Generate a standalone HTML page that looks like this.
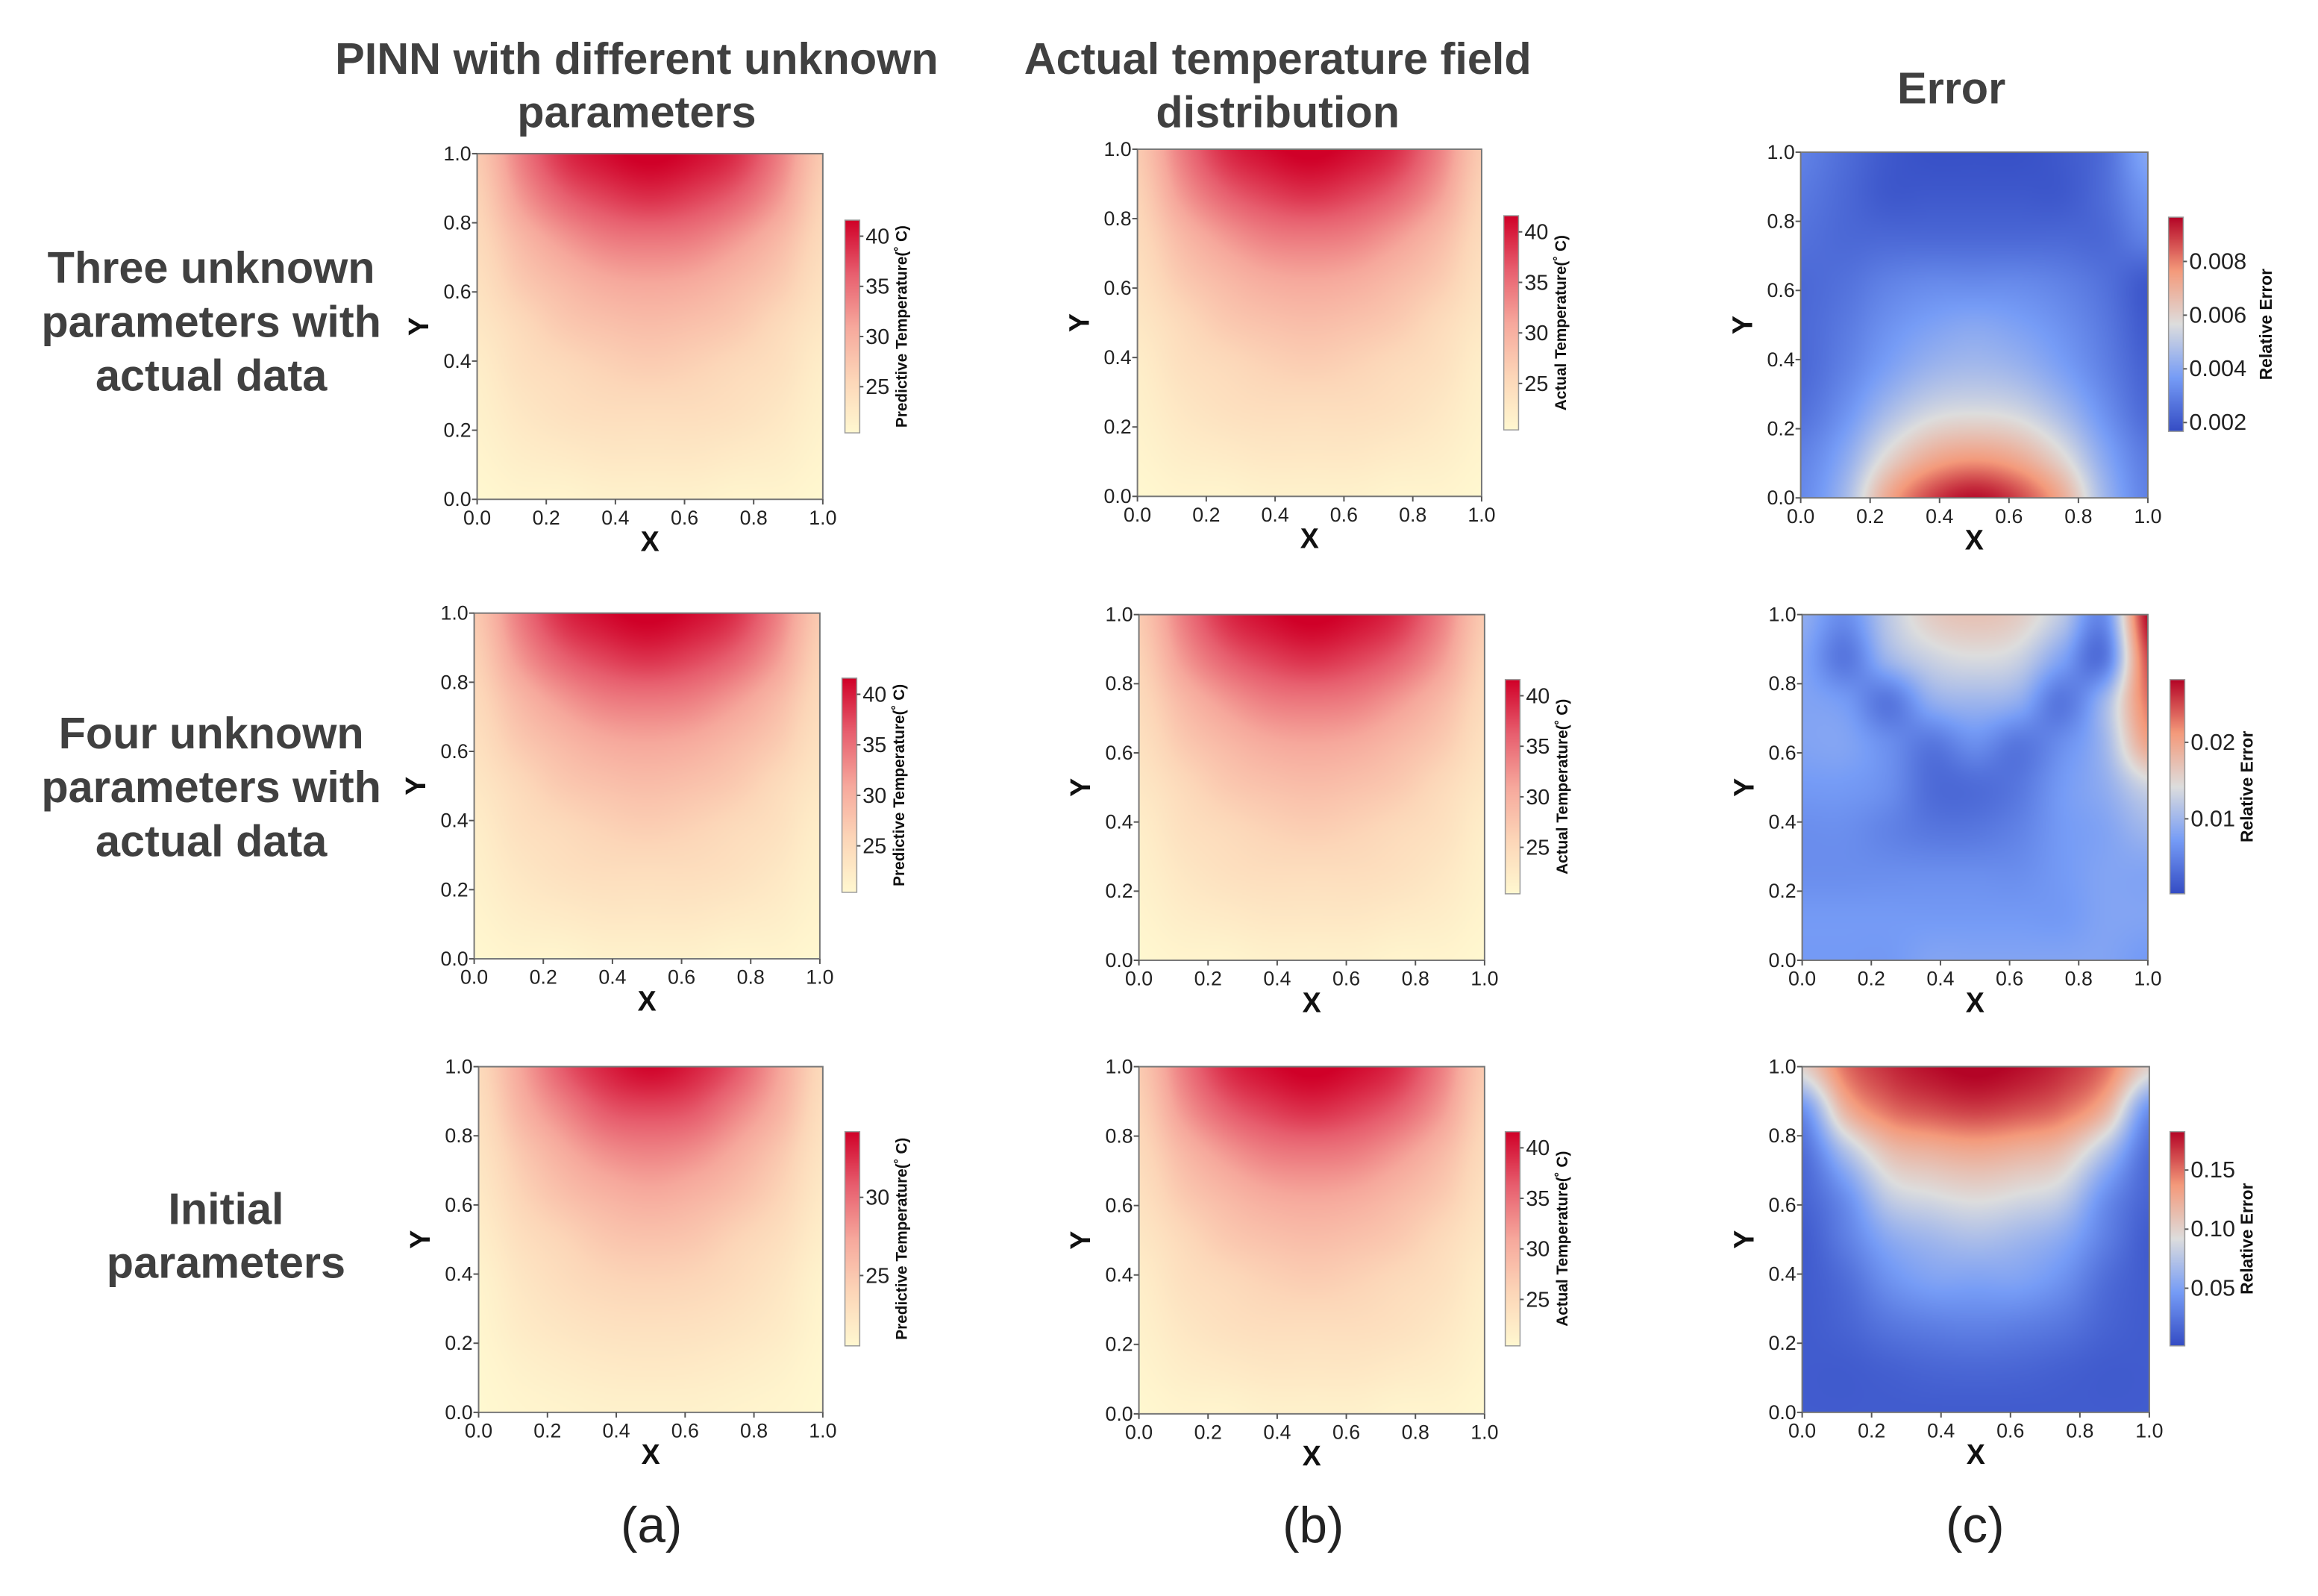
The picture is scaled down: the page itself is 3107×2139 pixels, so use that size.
<!DOCTYPE html>
<html><head><meta charset="utf-8"><style>
html,body{margin:0;padding:0;background:#fff;overflow:hidden;}
#page{width:3107px;height:2139px;position:relative;overflow:hidden;background:#fff;}
#root{position:absolute;left:0;top:0;width:3140px;height:2160px;font-family:"Liberation Sans",sans-serif;transform:scale(0.99);transform-origin:0 0;}
.t{position:absolute;color:#404040;font-weight:bold;text-align:center;white-space:nowrap;}
canvas{position:absolute;}
svg{position:absolute;left:0;top:0;}
</style></head><body>
<div id="page">
<div id="root">
<div class="t" style="left:412px;top:44px;width:900px;font-size:60px;line-height:72px;">PINN with different unknown<br>parameters</div>
<div class="t" style="left:1280px;top:44px;width:900px;font-size:60px;line-height:72px;">Actual temperature field<br>distribution</div>
<div class="t" style="left:2442px;top:84px;width:400px;font-size:60px;line-height:72px;">Error</div>
<div class="t" style="left:0px;top:326px;width:572px;font-size:60px;line-height:73px;">Three unknown<br>parameters with<br>actual data</div>
<div class="t" style="left:0px;top:956px;width:572px;font-size:60px;line-height:73px;">Four unknown<br>parameters with<br>actual data</div>
<div class="t" style="left:20px;top:1600px;width:572px;font-size:60px;line-height:73px;">Initial<br>parameters</div>
<div class="t" style="left:782px;top:2026px;width:200px;font-size:68px;font-weight:normal;color:#222;">(a)</div>
<div class="t" style="left:1678px;top:2026px;width:200px;font-size:68px;font-weight:normal;color:#222;">(b)</div>
<div class="t" style="left:2574px;top:2026px;width:200px;font-size:68px;font-weight:normal;color:#222;">(c)</div>
<svg id="ov" width="3140" height="2160"></svg>
</div></div>
<script>
// grid rows: y=1.0 (top) ... y=0.0 (bottom); cols: x=0 ... 1 step 0.125
const tempGrid=[
[27,34,39,41,42,41,39,34,27],
[26,32,36,38,39,38,36,32,26],
[25,29,32,34,34.5,34,32,29,25],
[24,27,29,30.5,31,30.5,29,27,24],
[23,25,27,28,28.5,28,27,25,23],
[22,24,25,26,26.5,26,25,24,22],
[21.5,23,24,24.5,24.5,24.5,24,23,21.5],
[21,22,22.5,23,23,23,22.5,22,21],
[20.5,21,21,21.5,21.5,21.5,21,21,20.5]];
const tempGridInit=[
[23.5,27.5,31,33,34,33,31,27.5,23.5],
[23,26.5,29,31,31.5,31,29,26.5,23],
[22.5,25,27,28.5,29,28.5,27,25,22.5],
[22,24,25.5,26.5,27,26.5,25.5,24,22],
[21.5,23,24,25,25.3,25,24,23,21.5],
[21,22.3,23.2,23.8,24,23.8,23.2,22.3,21],
[20.8,21.8,22.4,22.8,22.9,22.8,22.4,21.8,20.8],
[20.6,21.2,21.6,21.9,22,21.9,21.6,21.2,20.6],
[20.5,20.8,21,21.2,21.2,21.2,21,20.8,20.5]];
const err1Grid=[
[.003,.0025,.002,.0018,.0018,.0018,.002,.0025,.004],
[.0028,.0024,.002,.002,.002,.002,.002,.0025,.0035],
[.0026,.0024,.0024,.0024,.0024,.0024,.0024,.0024,.003],
[.0024,.0026,.003,.0032,.0032,.0032,.003,.0026,.002],
[.0024,.0028,.0034,.0038,.004,.0038,.0034,.0028,.002],
[.0024,.003,.0038,.0044,.0046,.0044,.0038,.003,.0022],
[.0026,.0034,.0046,.0054,.0056,.0054,.0046,.0034,.0024],
[.003,.004,.0058,.007,.0074,.007,.0058,.004,.0028],
[.0032,.0045,.0072,.0088,.0095,.0088,.0072,.0045,.003]];
const err2Grid=[
[.009,.006,.012,.016,.017,.016,.012,.006,.028],
[.008,.004,.01,.013,.014,.013,.008,.004,.025],
[.008,.007,.004,.009,.01,.009,.004,.01,.023],
[.008,.008,.006,.004,.006,.004,.006,.01,.02],
[.007,.007,.006,.003,.003,.004,.007,.009,.013],
[.006,.006,.005,.004,.004,.005,.007,.008,.01],
[.006,.006,.006,.006,.006,.006,.007,.008,.008],
[.007,.007,.007,.007,.007,.007,.007,.008,.008],
[.007,.007,.007,.008,.008,.008,.008,.008,.007]];
const err3Grid=[
[.10,.15,.17,.18,.185,.18,.17,.15,.10],
[.04,.12,.15,.16,.165,.16,.15,.12,.04],
[.02,.07,.11,.12,.125,.12,.11,.07,.02],
[.015,.04,.08,.09,.095,.09,.08,.04,.015],
[.01,.03,.055,.065,.07,.065,.055,.03,.01],
[.01,.02,.04,.05,.05,.05,.04,.02,.01],
[.01,.015,.025,.03,.032,.03,.025,.015,.01],
[.01,.01,.013,.016,.017,.016,.013,.01,.01],
[.01,.01,.01,.01,.01,.01,.01,.01,.01]];
const axisTicks=[0,0.2,0.4,0.6,0.8,1.0];
const axisTickLabels=["0.0","0.2","0.4","0.6","0.8","1.0"];
const tempTicks=[25,30,35,40];
const tempTicksInit=[25,30];
const err1Ticks=[0.002,0.004,0.006,0.008];
const err2Ticks=[0.01,0.02];
const err3Ticks=[0.05,0.10,0.15];

const TEMP=[[0,[255,248,208]],[0.25,[252,214,184]],[0.5,[246,168,156]],[0.75,[231,94,110]],[1,[208,0,40]]];
const CW=[[0,[52,76,196]],[0.25,[118,156,246]],[0.5,[221,221,221]],[0.75,[244,154,123]],[1,[180,4,38]]];
function cmap(s,t){t=Math.max(0,Math.min(1,t));for(let i=1;i<s.length;i++){if(t<=s[i][0]){const a=s[i-1],b=s[i],f=(t-a[0])/(b[0]-a[0]);return a[1].map((v,k)=>Math.round(v+(b[1][k]-v)*f));}}return s[s.length-1][1];}
function cr(p0,p1,p2,p3,t){return 0.5*((2*p1)+(-p0+p2)*t+(2*p0-5*p1+4*p2-p3)*t*t+(-p0+3*p1-3*p2+p3)*t*t*t);}
function sample(g,x,y){const n=g[0].length-1,m=g.length-1;const fx=x*n,fy=(1-y)*m;
 const i=Math.min(n-1,Math.floor(fx)),j=Math.min(m-1,Math.floor(fy));const u=fx-i,v=fy-j;
 const G=(r,c)=>g[Math.max(0,Math.min(m,r))][Math.max(0,Math.min(n,c))];
 const rows=[];for(let r=-1;r<=2;r++)rows.push(cr(G(j+r,i-1),G(j+r,i),G(j+r,i+1),G(j+r,i+2),u));
 return cr(rows[0],rows[1],rows[2],rows[3],v);}
const root=document.getElementById('root');const ov=document.getElementById('ov');const NS='http://www.w3.org/2000/svg';
function sv(tag,at,name){const e=document.createElementNS(NS,tag);for(const k in at)e.setAttribute(k,at[k]);


ov.appendChild(e);return e;}
function panel(p){
 const W=p.r-p.l,H=p.b-p.t;const c=document.createElement('canvas');
 
 
 const rw=Math.round(W/2),rh=Math.round(H/2);c.width=rw;c.height=rh;c.style.left=p.l+'px';c.style.top=p.t+'px';c.style.width=W+'px';c.style.height=H+'px';
 const ctx=c.getContext('2d');const im=ctx.createImageData(rw,rh);
 for(let y=0;y<rh;y++)for(let x=0;x<rw;x++){const v=sample(p.g,(x+0.5)/rw,1-(y+0.5)/rh);const col=cmap(p.cm,(v-p.lo)/(p.hi-p.lo));const o=(y*rw+x)*4;im.data[o]=col[0];im.data[o+1]=col[1];im.data[o+2]=col[2];im.data[o+3]=255;}
 ctx.putImageData(im,0,0);root.insertBefore(c,ov);
 sv('rect',{x:p.l,y:p.t,width:W,height:H,fill:'none',stroke:'#777','stroke-width':2},p.name+'-frame');
 axisTicks.forEach((t,i)=>{const x=p.l+t*W,y=p.b-t*H;
  sv('line',{x1:x,y1:p.b,x2:x,y2:p.b+7,stroke:'#555','stroke-width':2},p.name+'-x-tick');
  const tx=sv('text',{x:x,y:p.b+34,'text-anchor':'middle','font-size':27,fill:'#222','font-family':'Liberation Sans, sans-serif'},p.name+'-x-tick-label');tx.textContent=axisTickLabels[i];
  sv('line',{x1:p.l-7,y1:y,x2:p.l,y2:y,stroke:'#555','stroke-width':2},p.name+'-y-tick');
  const ty=sv('text',{x:p.l-8,y:y+9,'text-anchor':'end','font-size':27,fill:'#222','font-family':'Liberation Sans, sans-serif'},p.name+'-y-tick-label');ty.textContent=axisTickLabels[i];});
 const xl=sv('text',{x:p.l+W/2,y:p.b+70,'text-anchor':'middle','font-size':38,'font-weight':'bold',fill:'#111','font-family':'Liberation Sans, sans-serif'},p.name+'-x-axis-title');xl.textContent='X';
 const yl=sv('text',{x:0,y:0,transform:`translate(${p.l-66},${p.t+H/2}) rotate(-90)`,'text-anchor':'middle','font-size':38,'font-weight':'bold',fill:'#111','font-family':'Liberation Sans, sans-serif'},p.name+'-y-axis-title');yl.textContent='Y';
 const cb=p.cb,ch=cb.b-cb.t;const cc=document.createElement('canvas');
 
 
 cc.width=1;cc.height=ch;cc.style.left=cb.l+'px';cc.style.top=cb.t+'px';cc.style.width='20px';cc.style.height=ch+'px';
 const cx=cc.getContext('2d');const ci=cx.createImageData(1,ch);
 for(let y=0;y<ch;y++){const col=cmap(p.cm,1-(y+0.5)/ch);ci.data[y*4]=col[0];ci.data[y*4+1]=col[1];ci.data[y*4+2]=col[2];ci.data[y*4+3]=255;}
 cx.putImageData(ci,0,0);root.insertBefore(cc,ov);
 sv('rect',{x:cb.l,y:cb.t,width:20,height:ch,fill:'none',stroke:'#999','stroke-width':1.5},p.name+'-colorbar-frame');
 p.ticks.forEach(t=>{const y=cb.b-(t-p.lo)/(p.hi-p.lo)*ch;
  sv('line',{x1:cb.l+20,y1:y,x2:cb.l+25,y2:y,stroke:'#555','stroke-width':2},p.name+'-colorbar-tick');
  const e=sv('text',{x:cb.l+28,y:y+10,'font-size':p.tfs,fill:'#222','font-family':'Liberation Sans, sans-serif'},p.name+'-colorbar-tick-label');e.textContent=p.fmt(t);});
 const lab=sv('text',{x:0,y:0,transform:`translate(${cb.l+p.labOff},${(cb.t+cb.b)/2}) rotate(-90)`,'text-anchor':'middle','font-size':p.lfs,'font-weight':'bold',fill:'#111','font-family':'Liberation Sans, sans-serif'},p.name+'-colorbar-label');lab.textContent=p.label;
}
const f0=t=>String(t),f3=t=>t.toFixed(3),f2=t=>t.toFixed(2);
const P='Predictive Temperature(\u02da C)',A='Actual Temperature(\u02da C)',E='Relative Error';
panel({name:'a1',l:646,r:1114,t:208,b:676,g:tempGrid,cm:TEMP,lo:20.4,hi:41.6,ticks:tempTicks,fmt:f0,label:P,labOff:84,tfs:29,lfs:21,cb:{l:1144,t:298,b:586}});
panel({name:'b1',l:1540,r:2006,t:202,b:672,g:tempGrid,cm:TEMP,lo:20.4,hi:41.6,ticks:tempTicks,fmt:f0,label:A,labOff:84,tfs:29,lfs:21,cb:{l:2036,t:292,b:582}});
panel({name:'c1',l:2438,r:2908,t:206,b:674,g:err1Grid,cm:CW,lo:0.00167,hi:0.00965,ticks:err1Ticks,fmt:f3,label:E,labOff:140,tfs:31,lfs:23,cb:{l:2936,t:294,b:584}});
panel({name:'a2',l:642,r:1110,t:830,b:1298,g:tempGrid,cm:TEMP,lo:20.4,hi:41.6,ticks:tempTicks,fmt:f0,label:P,labOff:84,tfs:29,lfs:21,cb:{l:1140,t:918,b:1208}});
panel({name:'b2',l:1542,r:2010,t:832,b:1300,g:tempGrid,cm:TEMP,lo:20.4,hi:41.6,ticks:tempTicks,fmt:f0,label:A,labOff:84,tfs:29,lfs:21,cb:{l:2038,t:920,b:1210}});
panel({name:'c2',l:2440,r:2908,t:832,b:1300,g:err2Grid,cm:CW,lo:0.0002,hi:0.0282,ticks:err2Ticks,fmt:f2,label:E,labOff:112,tfs:31,lfs:23,cb:{l:2938,t:920,b:1210}});
panel({name:'a3',l:648,r:1114,t:1444,b:1912,g:tempGridInit,cm:TEMP,lo:20.5,hi:34.2,ticks:tempTicksInit,fmt:f0,label:P,labOff:84,tfs:29,lfs:21,cb:{l:1144,t:1532,b:1822}});
panel({name:'b3',l:1542,r:2010,t:1444,b:1914,g:tempGrid,cm:TEMP,lo:20.4,hi:41.6,ticks:tempTicks,fmt:f0,label:A,labOff:84,tfs:29,lfs:21,cb:{l:2038,t:1532,b:1822}});
panel({name:'c3',l:2440,r:2910,t:1444,b:1912,g:err3Grid,cm:CW,lo:0.0012,hi:0.1825,ticks:err3Ticks,fmt:f2,label:E,labOff:112,tfs:31,lfs:23,cb:{l:2938,t:1532,b:1822}});
</script>
</body></html>
